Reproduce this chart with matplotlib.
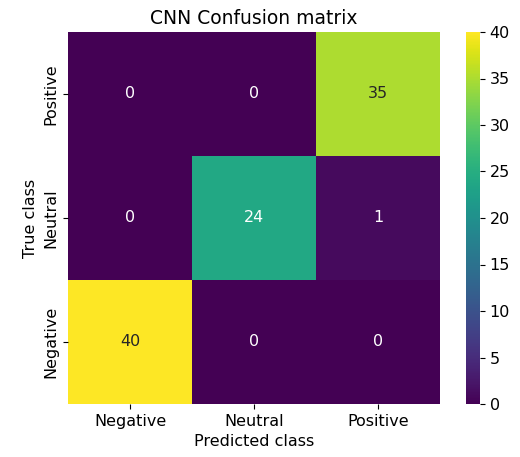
import matplotlib
matplotlib.use("Agg")
import matplotlib.pyplot as plt
import seaborn as sns
import numpy as np

row_labels = ["Positive", "Neutral", "Negative"]
col_labels = ["Negative", "Neutral", "Positive"]
values = np.array([
    [0, 0, 35],
    [0, 24, 1],
    [40, 0, 0],
])

plt.rcParams["font.size"] = 11.5
fig = plt.figure(figsize=(5.2, 4.57), dpi=100)
ax = fig.add_axes([68/520, 1-404/457, 372/520, 372/457])
cax = fig.add_axes([466/520, 1-404/457, 14/520, 372/457])
sns.heatmap(values, annot=True, fmt="d", cmap="viridis", ax=ax, cbar_ax=cax,
            xticklabels=col_labels, yticklabels=row_labels, vmin=0, vmax=40,
            annot_kws={"fontsize": 11.5})
ax.set_title("CNN Confusion matrix", fontsize=13.5)
ax.set_xlabel("Predicted class", fontsize=11.5)
ax.set_ylabel("True class", fontsize=11.5)
ax.tick_params(labelsize=11.5)
cax.tick_params(labelsize=11.5)
plt.setp(ax.get_yticklabels(), rotation=90, va="center")
fig.savefig("out.png", dpi=100)
